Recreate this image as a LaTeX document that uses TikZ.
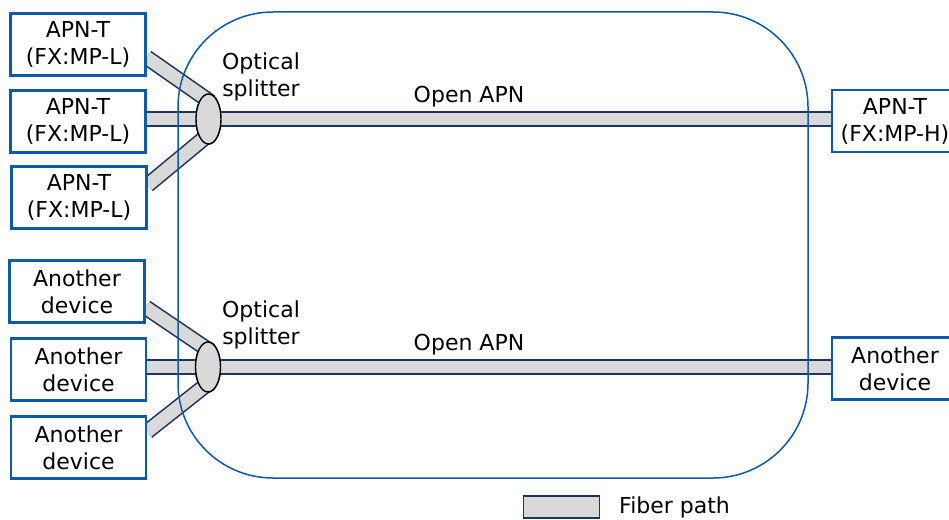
\documentclass[tikz,border=0pt]{standalone}
\usepackage{fontspec}
\setmainfont{DejaVu Sans}
\usetikzlibrary{shapes.geometric,calc}
\definecolor{boxblue}{RGB}{12,90,168}
\definecolor{fibernavy}{RGB}{31,52,92}
\definecolor{fibergray}{RGB}{217,217,217}
\tikzset{
  devbox/.style={draw=boxblue, line width=2.5pt, fill=white, minimum width=135pt, minimum height=62pt, align=center, inner sep=0pt, font=\fontsize{22}{27}\selectfont},
  fiber/.style={draw=fibernavy, line width=1.6pt, double=fibergray, double distance=12.8pt},
  splitter/.style={ellipse, draw=black, line width=1.4pt, fill=fibergray, minimum width=25pt, minimum height=50pt, inner sep=0pt},
  lbl/.style={align=center, inner sep=0pt, font=\fontsize{22}{27}\selectfont},
}
\begin{document}
\begin{tikzpicture}[x=1pt,y=-1pt]
\useasboundingbox (0,0) rectangle (949,519);
\clip (0,0) rectangle (949,519);
\fill[white] (0,0) rectangle (949,519);
% nodes
\node[splitter] (s1) at (208.5,119) {};
\node[splitter] (s2) at (208,367) {};
\node[devbox] (b1) at (78,44.5) {APN-T\\(FX:MP-L)};
\node[devbox] (b2) at (78,121.5) {APN-T\\(FX:MP-L)};
\node[devbox] (b3) at (79,197.5) {APN-T\\(FX:MP-L)};
\node[devbox] (b4) at (77,291.5) {Another\\device};
\node[devbox] (b5) at (78.5,369.5) {Another\\device};
\node[devbox] (b6) at (78.5,447.5) {Another\\device};
\node[devbox, minimum width=126pt] (r1) at (895,121) {APN-T\\(FX:MP-H)};
\node[devbox, minimum width=126pt] (r2) at (895,368.5) {Another\\device};
% fiber paths
\coordinate (t1) at ($(s1.center)+(2,-17)$);
\coordinate (t3) at ($(s1.center)+(2,14)$);
\coordinate (u1) at ($(s2.center)+(2,-16)$);
\coordinate (u3) at ($(s2.center)+(2,15)$);
\draw[fiber] ($(b1.east)+(0,13)$) -- (t1);
\draw[fiber] (b2.east |- s1.center) -- (s1.center);
\draw[fiber] ($(b3.east)+(0,-12.5)$) -- (t3);
\draw[fiber] (s1.center) -- (r1.west |- s1.center);
\draw[fiber] ($(b4.east)+(0,16)$) -- (u1);
\draw[fiber] (b5.east |- s2.center) -- (s2.center);
\draw[fiber] ($(b6.east)+(0,-16)$) -- (u3);
\draw[fiber] (s2.center) -- (r2.west |- s2.center);
% network outline
\draw[boxblue, line width=1.5pt, rounded corners=95pt] (178,12) rectangle (808,478);
% redraw splitters and boxes on top
\node[splitter] at (s1) {};
\node[splitter] at (s2) {};
\node[devbox] at (b1) {APN-T\\(FX:MP-L)};
\node[devbox] at (b2) {APN-T\\(FX:MP-L)};
\node[devbox] at (b3) {APN-T\\(FX:MP-L)};
\node[devbox] at (b4) {Another\\device};
\node[devbox] at (b5) {Another\\device};
\node[devbox] at (b6) {Another\\device};
\node[devbox, minimum width=126pt] at (r1) {APN-T\\(FX:MP-H)};
\node[devbox, minimum width=126pt] at (r2) {Another\\device};
% labels
\node[lbl] (os1) at (261,77) {Optical\\splitter};
\node[lbl] (os2) at (261,325) {Optical\\splitter};
\node[lbl] (oa1) at (469,97) {Open APN};
\node[lbl] (oa2) at (469,345) {Open APN};
% legend
\node[draw=fibernavy, line width=1.6pt, fill=fibergray, minimum width=76pt, minimum height=22pt, inner sep=0pt] (leg) at (561.5,507) {};
\node[lbl, anchor=west] (legt) at (619,507) {Fiber path};
\end{tikzpicture}
\end{document}
